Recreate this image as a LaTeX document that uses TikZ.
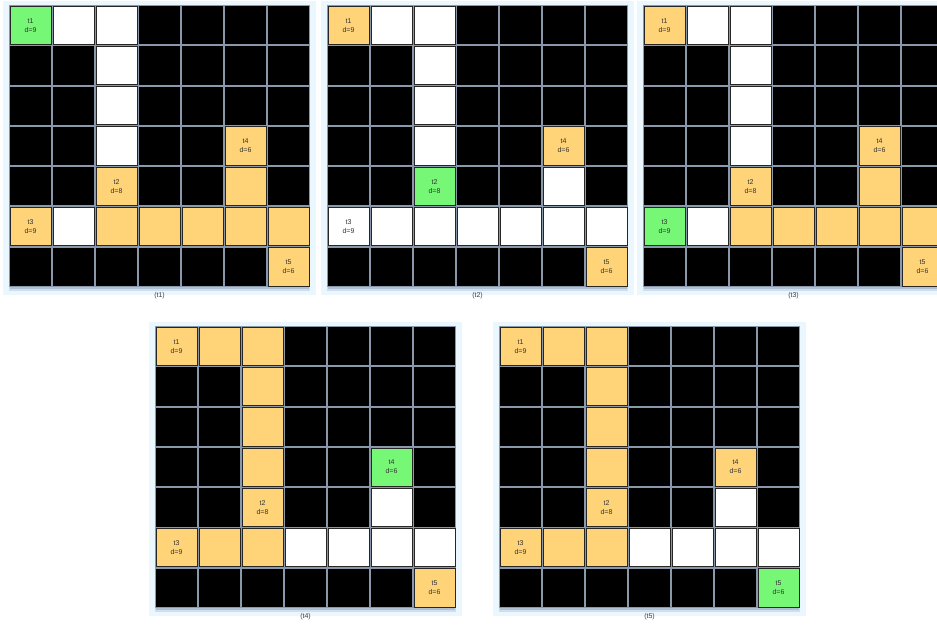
\documentclass[tikz,border=0pt]{standalone}
\usepackage{fontspec}
\setsansfont{Liberation Sans}
\usepackage{tikz}
\usepackage{xcolor}
\definecolor{orgcol}{RGB}{255,212,121}
\definecolor{grncol}{RGB}{118,248,118}
\definecolor{panelcol}{RGB}{234,247,255}
\definecolor{linecol}{RGB}{138,152,172}
\definecolor{shadecol}{RGB}{176,192,212}
\tikzset{
  cell/.style={draw=black!85, line width=0.8pt, minimum width=41pt, minimum height=38.3pt,
    inner sep=0pt, outer sep=0pt, align=center, text=black!80,
    font=\sffamily\fontsize{7}{9}\selectfont},
  wht/.style={cell, fill=white},
  org/.style={cell, fill=orgcol},
  grn/.style={cell, fill=grncol},
  caption/.style={text=black!75, font=\sffamily\fontsize{7}{9}\selectfont}
}
% #1 name, #2 x0, #3 y0, #4 coloured cells row/col/style/text
\newcommand{\board}[4]{%
  \fill[panelcol] (#2-6,#3-4) rectangle (#2+307,#3+290);
  \fill[shadecol!45!panelcol] (#2,#3+2) rectangle (#2+301,#3+286);
  \fill[shadecol] (#2+1,#3+1) rectangle (#2+300,#3+284);
  \fill[linecol] (#2,#3) rectangle (#2+301,#3+282);
  \foreach \row in {0,...,6}
    \foreach \col in {0,...,6}
      \fill[black] (#2+43*\col+1,#3+40.3*\row+1) rectangle ++(41,38.3);
  \foreach \row/\col/\sty/\lbl in {#4}
    \node[\sty] (#1-\row-\col) at (#2+43*\col+21.5,#3+40.3*\row+20.15) {\lbl};
  \node[caption] (#1-cap) at (#2+150.5,#3+291) {(#1)};
}

\begin{document}
\begin{tikzpicture}[x=1pt, y=-1pt]
	\clip (0,0) rectangle (937,628);
	\fill[white] (0,0) rectangle (937,628);
	\board{t1}{9}{5}{0/0/grn/{t1\\d=9}, 0/1/wht/{}, 0/2/wht/{}, 1/2/wht/{}, 2/2/wht/{}, 3/2/wht/{},
		4/2/org/{t2\\d=8}, 3/5/org/{t4\\d=6}, 4/5/org/{}, 5/0/org/{t3\\d=9}, 5/1/wht/{},
		5/2/org/{}, 5/3/org/{}, 5/4/org/{}, 5/5/org/{}, 5/6/org/{}, 6/6/org/{t5\\d=6}}
	\board{t2}{327}{5}{0/0/org/{t1\\d=9}, 0/1/wht/{}, 0/2/wht/{}, 1/2/wht/{}, 2/2/wht/{}, 3/2/wht/{},
		4/2/grn/{t2\\d=8}, 3/5/org/{t4\\d=6}, 4/5/wht/{}, 5/0/wht/{t3\\d=9}, 5/1/wht/{},
		5/2/wht/{}, 5/3/wht/{}, 5/4/wht/{}, 5/5/wht/{}, 5/6/wht/{}, 6/6/org/{t5\\d=6}}
	\board{t3}{643}{5}{0/0/org/{t1\\d=9}, 0/1/wht/{}, 0/2/wht/{}, 1/2/wht/{}, 2/2/wht/{}, 3/2/wht/{},
		4/2/org/{t2\\d=8}, 3/5/org/{t4\\d=6}, 4/5/org/{}, 5/0/grn/{t3\\d=9}, 5/1/wht/{},
		5/2/org/{}, 5/3/org/{}, 5/4/org/{}, 5/5/org/{}, 5/6/org/{}, 6/6/org/{t5\\d=6}}
	\board{t4}{155}{326}{0/0/org/{t1\\d=9}, 0/1/org/{}, 0/2/org/{}, 1/2/org/{}, 2/2/org/{}, 3/2/org/{},
		4/2/org/{t2\\d=8}, 3/5/grn/{t4\\d=6}, 4/5/wht/{}, 5/0/org/{t3\\d=9}, 5/1/org/{},
		5/2/org/{}, 5/3/wht/{}, 5/4/wht/{}, 5/5/wht/{}, 5/6/wht/{}, 6/6/org/{t5\\d=6}}
	\board{t5}{499}{326}{0/0/org/{t1\\d=9}, 0/1/org/{}, 0/2/org/{}, 1/2/org/{}, 2/2/org/{}, 3/2/org/{},
		4/2/org/{t2\\d=8}, 3/5/org/{t4\\d=6}, 4/5/wht/{}, 5/0/org/{t3\\d=9}, 5/1/org/{},
		5/2/org/{}, 5/3/wht/{}, 5/4/wht/{}, 5/5/wht/{}, 5/6/wht/{}, 6/6/grn/{t5\\d=6}}
\end{tikzpicture}
\end{document}
